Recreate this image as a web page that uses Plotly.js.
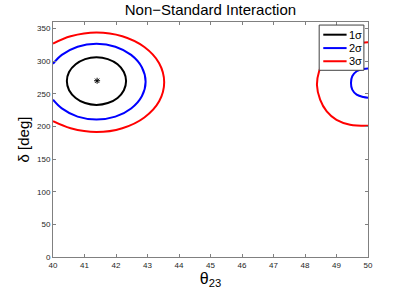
<!DOCTYPE html>
<html>
<head>
<meta charset="utf-8">
<script src="https://cdn.plot.ly/plotly-3.0.1.min.js"></script>
<style>html,body{margin:0;padding:0;background:#fff;}#chart{width:407px;height:292px;}</style>
</head>
<body>
<div id="chart"></div>
<script>
// Contour data (theta23 in deg, delta in deg)
var s1LeftTheta = [42.32,42.25,42.05,41.74,41.38,41.02,40.72,40.51,40.44,40.51,40.72,41.02,41.38,41.74,42.05,42.25,42.32];
var s1LeftDelta = [269.5,283.5,295.3,303.2,306,303.2,295.3,283.5,269.5,255.5,243.7,235.8,233,235.8,243.7,255.5,269.5];

var s2LeftTheta = [40,40.28,40.78,41.38,41.98,42.48,42.82,42.94,42.82,42.48,41.98,41.38,40.78,40.28,40];
var s2LeftDelta = [296,309.6,322.2,326.6,322.2,309.6,290.8,268.6,246.4,227.6,215,210.6,215,227.6,241];

var s3LeftTheta = [40,40.56,41.38,42.2,42.9,43.37,43.53,43.37,42.9,42.2,41.38,40.56,40];
var s3LeftDelta = [327,338.2,344,338.2,321.7,296.9,267.7,238.5,213.7,197.2,191.4,197.2,208];

var s2RightTheta = [50,49.85,49.64,49.5,49.46,49.5,49.64,49.85,50];
var s2RightDelta = [288.6,288,284.5,276.8,266.6,256.4,248.7,245,244];

var s3RightTheta = [50,49.4,48.9,48.6,48.45,48.38,48.48,48.69,49.0,49.43,50];
var s3RightDelta = [329,325,315,300,285,263,241,223,210,202.6,201];

var bestTheta = [41.4];
var bestDelta = [270];

var legendNames = ['1σ','2σ','3σ'];
var legendColors = ['#000000','#0000ff','#ff0000'];
var xTicks = [40,41,42,43,44,45,46,47,48,49,50];
var yTicks = [0,50,100,150,200,250,300,350];

var FONT = 'Liberation Sans, Arial, Helvetica, sans-serif';
function line(x, y, color, name) {
  return {x: x, y: y, type: 'scatter', mode: 'lines', name: name, showlegend: false,
          line: {color: color, width: 2, shape: 'spline', smoothing: 1}, hoverinfo: 'skip'};
}
var data = [
  line(s1LeftTheta, s1LeftDelta, legendColors[0], legendNames[0]),
  line(s2LeftTheta, s2LeftDelta, legendColors[1], legendNames[1]),
  line(s3LeftTheta, s3LeftDelta, legendColors[2], legendNames[2]),
  line(s2RightTheta, s2RightDelta, legendColors[1], legendNames[1]),
  line(s3RightTheta, s3RightDelta, legendColors[2], legendNames[2]),
  {x: bestTheta, y: bestDelta, type: 'scatter', mode: 'markers', showlegend: false, hoverinfo: 'skip',
   marker: {symbol: 'asterisk-open', size: 5, color: '#000', line: {color: '#000', width: 1}}}
];

// Legend box drawn in paper coordinates (MATLAB-style compact legend)
var legBox = {x0: 0.845, x1: 0.987, y0: 0.7945, y1: 0.987};
var legRowsY = [0.946, 0.889, 0.833];
var shapes = [{type: 'rect', xref: 'paper', yref: 'paper', x0: legBox.x0, x1: legBox.x1, y0: legBox.y0, y1: legBox.y1,
               fillcolor: '#ffffff', line: {color: '#404040', width: 1}, layer: 'above'}];
var annotations = [];
legendNames.forEach(function (nm, i) {
  shapes.push({type: 'line', xref: 'paper', yref: 'paper', x0: 0.858, x1: 0.932, y0: legRowsY[i], y1: legRowsY[i],
               line: {color: legendColors[i], width: 2}, layer: 'above'});
  annotations.push({xref: 'paper', yref: 'paper', x: 0.933, y: legRowsY[i], xanchor: 'left', yanchor: 'middle',
                    text: nm, showarrow: false, font: {family: FONT, size: 11, color: '#000'}});
});

var axisCommon = {
  showgrid: false, zeroline: false, showline: true, linecolor: '#808080', linewidth: 1,
  mirror: 'ticks', ticks: 'inside', ticklen: 3, tickcolor: '#808080', tickwidth: 1,
  tickfont: {family: FONT, size: 8, color: '#262626'}
};
var layout = {
  width: 407, height: 292,
  margin: {l: 53, r: 39, t: 22, b: 35, pad: 0},
  paper_bgcolor: '#fff', plot_bgcolor: '#fff',
  title: {text: 'Non−Standard Interaction', font: {family: FONT, size: 15, color: '#000'},
          x: 0.517, xanchor: 'center', y: 0.965, yanchor: 'middle'},
  xaxis: Object.assign({}, axisCommon, {range: [40, 50], tickvals: xTicks, ticktext: xTicks.map(String),
     title: {text: 'θ<sub>23</sub>', font: {family: FONT, size: 16, color: '#000'}, standoff: 0}}),
  yaxis: Object.assign({}, axisCommon, {range: [0, 360], tickvals: yTicks, ticktext: yTicks.map(String),
     title: {text: 'δ [deg]', font: {family: FONT, size: 15, color: '#000'}, standoff: 3}}),
  shapes: shapes,
  annotations: annotations,
  showlegend: false
};
Plotly.newPlot('chart', data, layout, {staticPlot: true, displayModeBar: false});
</script>
</body>
</html>
